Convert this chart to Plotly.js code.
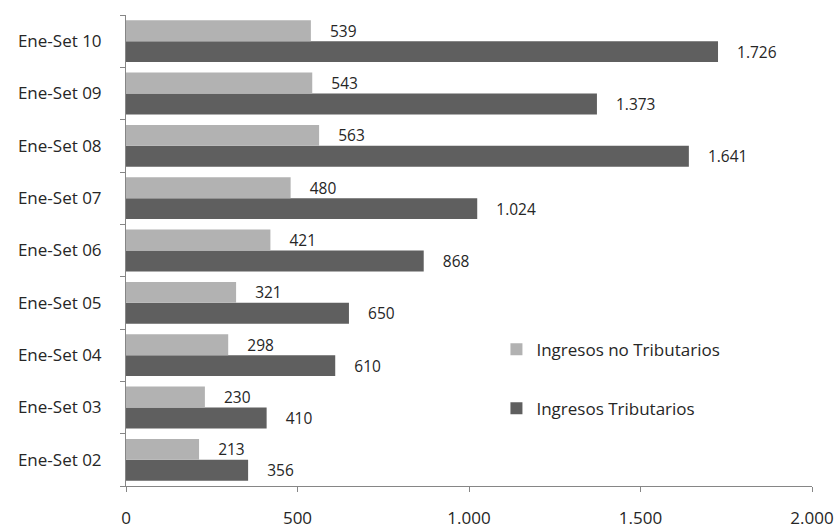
<!DOCTYPE html>
<html><head><meta charset="utf-8">
<script src="https://cdn.plot.ly/plotly-3.0.1.min.js"></script>
<style>html,body{margin:0;padding:0;background:#fff}#chart{width:840px;height:531px}</style>
</head><body><div id="chart"></div>
<script>
const categories = ["Ene-Set 02","Ene-Set 03","Ene-Set 04","Ene-Set 05","Ene-Set 06","Ene-Set 07","Ene-Set 08","Ene-Set 09","Ene-Set 10"];
const noTributarios = [213, 230, 298, 321, 421, 480, 563, 543, 539];
const tributarios = [356, 410, 610, 650, 868, 1024, 1641, 1373, 1726];
const xTicks = [0, 500, 1000, 1500, 2000];

const font = {family: "Open Sans, Noto Sans, sans-serif", size: 17, color: "#262626"};
const pad = "\u00a0\u00a0\u00a0\u00a0";

const traces = [
  {type: "bar", orientation: "h", name: "Ingresos Tributarios", legendgroup: "a", legendrank: 2,
   y: categories, x: tributarios, marker: {color: "#5f5f5f"},
   texttemplate: pad + "%{x:,}", textposition: "outside", cliponaxis: false,
   textfont: font, hoverinfo: "x+y"},
  {type: "bar", orientation: "h", name: "Ingresos no Tributarios", legendgroup: "b", legendrank: 1,
   y: categories, x: noTributarios, marker: {color: "#b2b2b2"},
   texttemplate: pad + "%{x:,}", textposition: "outside", cliponaxis: false,
   textfont: font, hoverinfo: "x+y"}
];

const layout = {
  width: 840, height: 531,
  margin: {l: 126, r: 28, t: 15, b: 45},
  paper_bgcolor: "#fff", plot_bgcolor: "#fff",
  separators: ",.",
  font: font,
  barmode: "group", bargap: 0.2, bargroupgap: 0,
  showlegend: true,
  legend: {x: 0.54, y: 0.227, xanchor: "left", yanchor: "middle",
           traceorder: "grouped", tracegroupgap: 34,
           font: font, bgcolor: "rgba(0,0,0,0)"},
  xaxis: {range: [0, 2000], tickvals: xTicks, tickformat: ",",
          showgrid: false, zeroline: false, showline: true, linecolor: "#868686", linewidth: 1,
          ticks: "outside", ticklen: 5, tickcolor: "#868686", ticklabelstandoff: 12,
          tickfont: font, fixedrange: true},
  yaxis: {type: "category", categoryorder: "array", categoryarray: categories,
          showgrid: false, zeroline: false, showline: true, linecolor: "#868686", linewidth: 1,
          ticks: "outside", ticklen: 5, tickcolor: "#868686", tickson: "boundaries",
          ticklabelstandoff: 20, tickfont: font, fixedrange: true}
};

Plotly.newPlot("chart", traces, layout, {displayModeBar: false, staticPlot: true});
</script></body></html>
